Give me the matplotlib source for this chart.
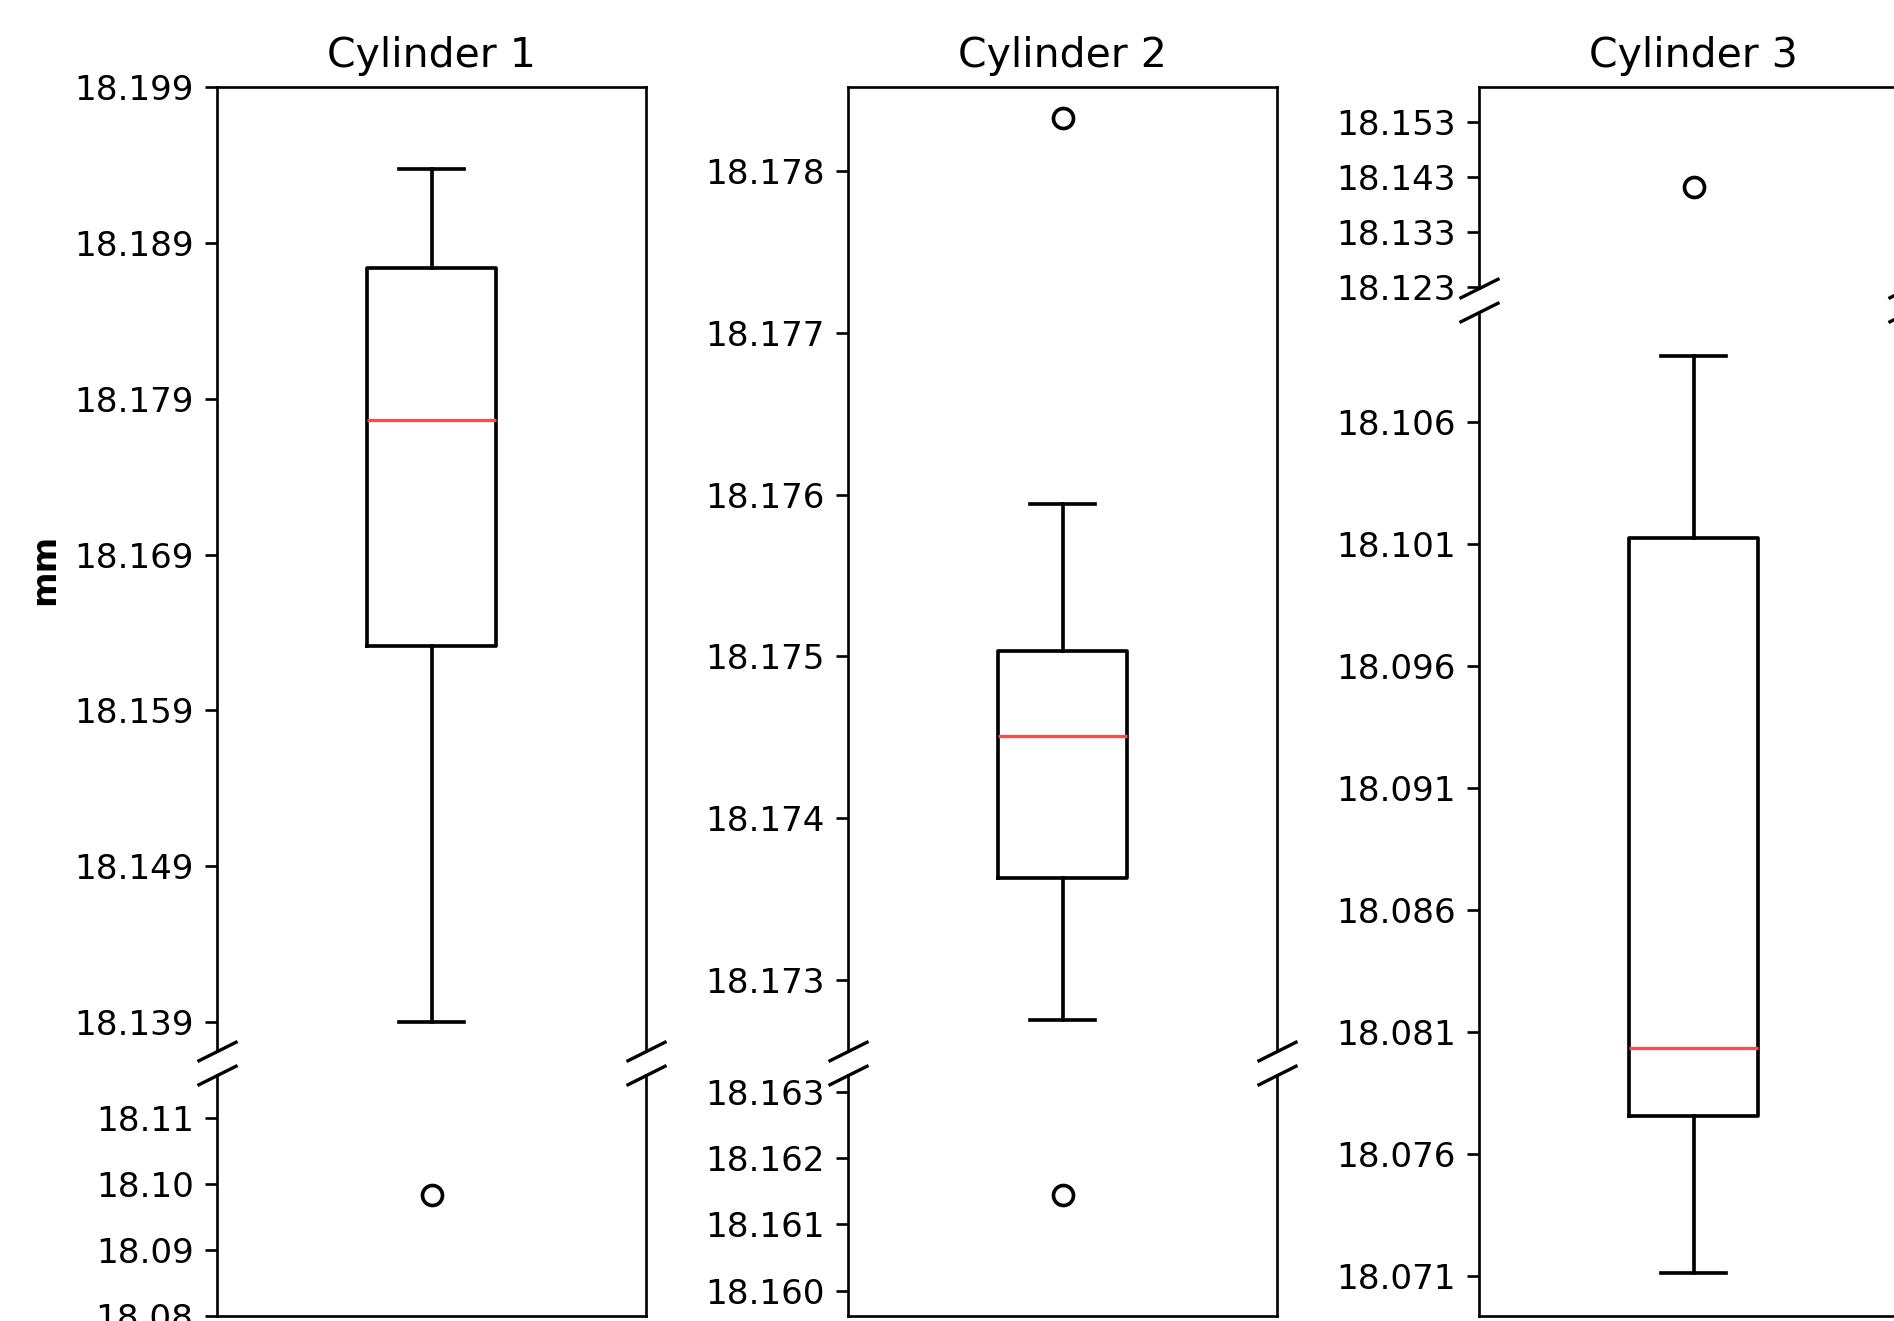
import matplotlib
matplotlib.use('Agg')
import matplotlib.pyplot as plt

plt.rcParams['font.size'] = 10.25

# 每个气缸的箱线图统计值 (mm)
cylinders = ['Cylinder 1', 'Cylinder 2', 'Cylinder 3']
medians = [18.17761, 18.17451, 18.08036]
q1s = [18.16315, 18.17363, 18.07755]
q3s = [18.18740, 18.17503, 18.10123]
whislos = [18.13900, 18.17275, 18.07114]
whishis = [18.19372, 18.17594, 18.10869]
fliers = [[18.0984], [18.17833, 18.16144], [18.1412]]

# 断轴的上下两段范围
top_ylims = [(18.13715, 18.19900), (18.17256, 18.17852), (18.12290, 18.15940)]
bottom_ylims = [(18.08000, 18.11650), (18.15962, 18.16325), (18.06936, 18.11050)]

top_ticklabels = [
    ['18.139', '18.149', '18.159', '18.169', '18.179', '18.189', '18.199'],
    ['18.173', '18.174', '18.175', '18.176', '18.177', '18.178'],
    ['18.123', '18.133', '18.143', '18.153'],
]
bottom_ticklabels = [
    ['18.08', '18.09', '18.10', '18.11'],
    ['18.160', '18.161', '18.162', '18.163'],
    ['18.071', '18.076', '18.081', '18.086', '18.091', '18.096', '18.101', '18.106'],
]
height_ratios = [(4, 1), (4, 1), (1, 5)]

W, H, dpi = 1894, 1321, 240
fig = plt.figure(figsize=(W / dpi, H / dpi), dpi=dpi)

lefts = [217, 848, 1479]
width = 429
y_top, y_bottom, gap = 87, 1316, 24
avail = y_bottom - y_top - gap

line = dict(linewidth=1.1)

for i in range(3):
    rt, rb = height_ratios[i]
    h_top = avail * rt / (rt + rb)
    h_bot = avail * rb / (rt + rb)
    ax_t = fig.add_axes([lefts[i] / W, (H - y_top - h_top) / H, width / W, h_top / H])
    ax_b = fig.add_axes([lefts[i] / W, (H - y_bottom) / H, width / W, h_bot / H])

    stats = [dict(med=medians[i], q1=q1s[i], q3=q3s[i],
                  whislo=whislos[i], whishi=whishis[i], fliers=fliers[i])]
    for ax in (ax_t, ax_b):
        ax.bxp(stats, positions=[1], widths=0.15,
               boxprops=line, whiskerprops=line, capprops=line,
               flierprops=dict(markeredgewidth=1.1),
               medianprops=dict(color='#ff4a4a', linewidth=1))
        ax.set_xlim(0.75, 1.25)
        ax.tick_params(axis='x', bottom=False, top=False, labelbottom=False)

    ax_t.set_ylim(*top_ylims[i])
    ax_b.set_ylim(*bottom_ylims[i])
    ax_t.set_yticks([float(s) for s in top_ticklabels[i]])
    ax_t.set_yticklabels(top_ticklabels[i])
    ax_b.set_yticks([float(s) for s in bottom_ticklabels[i]])
    ax_b.set_yticklabels(bottom_ticklabels[i])

    ax_t.spines['bottom'].set_visible(False)
    ax_b.spines['top'].set_visible(False)

    # 断轴斜线
    d = 0.5
    kw = dict(marker=[(-1, -d), (1, d)], markersize=12, linestyle='none',
              color='k', mec='k', mew=1, clip_on=False)
    ax_t.plot([0, 1], [0, 0], transform=ax_t.transAxes, **kw)
    ax_b.plot([0, 1], [1, 1], transform=ax_b.transAxes, **kw)

    ax_t.set_title(cylinders[i])
    if i == 0:
        ax_t.set_ylabel('mm', fontweight='bold')

fig.savefig('out.png', dpi=dpi)
